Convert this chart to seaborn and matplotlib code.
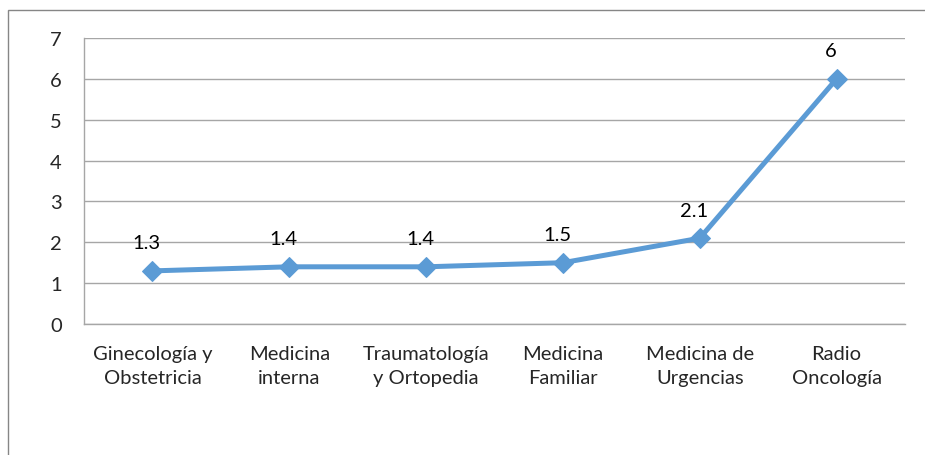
import matplotlib
matplotlib.use("Agg")
import matplotlib.pyplot as plt
import seaborn as sns
import pandas as pd
from matplotlib.patches import Rectangle

categories = ["Ginecología y\nObstetricia", "Medicina\ninterna", "Traumatología\ny Ortopedia",
              "Medicina\nFamiliar", "Medicina de\nUrgencias", "Radio\nOncología"]
values = [1.3, 1.4, 1.4, 1.5, 2.1, 6]
y_ticks = [0, 1, 2, 3, 4, 5, 6, 7]

sns.set_theme(style="white")
plt.rcParams['font.family'] = ['Lato', 'DejaVu Sans']

fs = 14.5
fig = plt.figure(figsize=(9.25, 4.56), dpi=100)
ax = fig.add_axes([84/925, 131/456, (905-84)/925, (325-39)/456])

df = pd.DataFrame({"cat": range(len(categories)), "val": values})
color = "#5B9BD5"
sns.lineplot(data=df, x="cat", y="val", ax=ax, color=color, linewidth=3.6,
             marker="D", markersize=10, markeredgecolor=color, zorder=3)

for i, v in enumerate(values):
    ax.annotate(f"{v:g}", (i, v), xytext=(-4, 14), textcoords="offset points",
                ha="center", va="bottom", fontsize=fs, color="black")

ax.set_xlim(-0.5, len(categories) - 0.5)
ax.set_ylim(0, 7)
ax.set_yticks(y_ticks)
ax.set_yticklabels([str(t) for t in y_ticks])
ax.set_xticks([i - 0.5 for i in range(len(categories) + 1)], minor=False)
ax.set_xticklabels([])
ax.set_xticks(range(len(categories)), minor=True)
ax.set_xticklabels(categories, minor=True, fontsize=fs, linespacing=1.5)
ax.tick_params(axis="x", which="minor", length=0, pad=15)
ax.tick_params(axis="x", which="major", length=6, width=1, color="#A6A6A6", direction="out")
ax.tick_params(axis="y", length=6, width=1, color="#A6A6A6", direction="out", labelsize=fs, pad=10)
ax.set_xlabel("")
ax.set_ylabel("")
ax.grid(axis="y", color="#A6A6A6", linewidth=1)
ax.grid(axis="x", visible=False)
for s in ["top", "right"]:
    ax.spines[s].set_visible(False)
for s in ["left", "bottom"]:
    ax.spines[s].set_color("#A6A6A6")
    ax.spines[s].set_linewidth(1)
ax.set_axisbelow(True)

fig.patches.append(Rectangle((8/925, -0.1), 1.2, (445/456) + 0.1, transform=fig.transFigure,
                             fill=False, edgecolor="#868686", linewidth=1, zorder=0))

fig.savefig("out.png", dpi=100)
